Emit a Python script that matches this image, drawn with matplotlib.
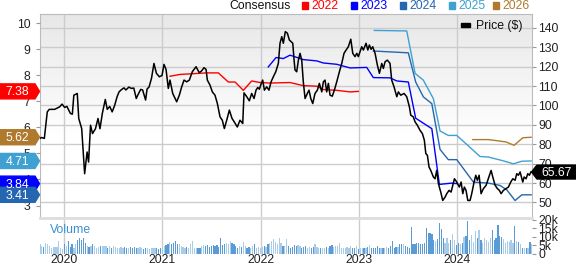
import numpy as np
import pandas as pd
import matplotlib
matplotlib.use("Agg")
import matplotlib.pyplot as plt
from matplotlib.patches import Polygon, Rectangle
from matplotlib.transforms import IdentityTransform

plt.rcParams['font.family'] = ['Liberation Sans', 'DejaVu Sans']

# weekly share price, x in decimal years
price_t = [2019.756, 2019.77, 2019.80, 2019.83, 2019.85, 2019.905, 2019.956, 2019.98, 2020.007, 2020.03,
           2020.065, 2020.085, 2020.10, 2020.135, 2020.15, 2020.18, 2020.21, 2020.235, 2020.25, 2020.27,
           2020.29, 2020.32, 2020.346, 2020.366, 2020.39, 2020.42, 2020.44, 2020.465, 2020.49, 2020.515,
           2020.54, 2020.56, 2020.58, 2020.61, 2020.63, 2020.66, 2020.685, 2020.71, 2020.735, 2020.75,
           2020.78, 2020.80, 2020.83, 2020.845, 2020.865, 2020.89, 2020.915, 2020.94, 2020.97, 2020.997,
           2021.017, 2021.038, 2021.061, 2021.078, 2021.106, 2021.146, 2021.173, 2021.197, 2021.221, 2021.248,
           2021.275, 2021.305, 2021.343, 2021.376, 2021.401, 2021.424, 2021.445, 2021.458, 2021.485, 2021.509,
           2021.536, 2021.56, 2021.587, 2021.61, 2021.631, 2021.655, 2021.682, 2021.709, 2021.732, 2021.763,
           2021.79, 2021.818, 2021.831, 2021.859, 2021.885, 2021.909, 2021.933, 2021.953, 2021.971, 2021.987,
           2022.004, 2022.021, 2022.038, 2022.062, 2022.085, 2022.106, 2022.129, 2022.154, 2022.18, 2022.197,
           2022.215, 2022.231, 2022.251, 2022.272, 2022.292, 2022.327, 2022.34, 2022.35, 2022.367, 2022.384,
           2022.401, 2022.418, 2022.434, 2022.452, 2022.475, 2022.492, 2022.51, 2022.53, 2022.553, 2022.577,
           2022.597, 2022.622, 2022.638, 2022.655, 2022.672, 2022.689, 2022.706, 2022.729, 2022.75, 2022.774,
           2022.801, 2022.825, 2022.848, 2022.869, 2022.892, 2022.917, 2022.937, 2022.96, 2022.978, 2022.994,
           2023.011, 2023.028, 2023.045, 2023.072, 2023.09, 2023.106, 2023.123, 2023.14, 2023.164, 2023.187,
           2023.208, 2023.232, 2023.248, 2023.266, 2023.289, 2023.316, 2023.333, 2023.357, 2023.385, 2023.401,
           2023.425, 2023.459, 2023.486, 2023.513, 2023.527, 2023.553, 2023.571, 2023.594, 2023.621, 2023.645,
           2023.665, 2023.68, 2023.696, 2023.713, 2023.73, 2023.757, 2023.774, 2023.791, 2023.808, 2023.832,
           2023.852, 2023.876, 2023.893, 2023.917, 2023.937, 2023.954, 2023.971, 2023.995, 2024.021, 2024.039,
           2024.056, 2024.072, 2024.089, 2024.107, 2024.13, 2024.147, 2024.171, 2024.188, 2024.204, 2024.222,
           2024.242, 2024.266, 2024.293, 2024.316, 2024.344, 2024.361, 2024.385, 2024.408, 2024.428, 2024.446,
           2024.469, 2024.496, 2024.52, 2024.544, 2024.565, 2024.588, 2024.605, 2024.622, 2024.639, 2024.666,
           2024.68, 2024.70, 2024.717, 2024.734, 2024.748]
price = [83.0, 83.5, 83.0, 96.7, 98.0, 98.0, 99.3, 100.7, 99.0, 99.5,
         95.9, 95.5, 105.3, 106.2, 93.3, 88.1, 64.8, 76.0, 70.8, 89.8,
         85.5, 88.0, 93.3, 88.0, 95.9, 103.1, 98.0, 99.5, 96.7, 100.0,
         104.5, 107.0, 108.0, 109.1, 108.0, 109.5, 108.8, 109.0, 103.6, 105.3,
         108.3, 108.0, 102.8, 108.5, 109.5, 114.0, 121.7, 116.6, 114.8, 115.5,
         121.2, 118.6, 108.8, 113.1, 106.2, 101.9, 105.3, 109.6, 113.1, 112.2,
         113.1, 117.4, 120.0, 116.9, 117.9, 119.5, 118.6, 113.1, 110.5, 107.0,
         105.3, 101.0, 94.1, 92.4, 88.1, 92.4, 97.6, 93.3, 91.5, 88.9,
         92.4, 90.7, 106.5, 104.5, 102.4, 106.2, 103.6, 107.9, 109.3, 108.4,
         111.0, 113.1, 107.9, 109.6, 107.9, 112.2, 114.8, 117.4, 121.7, 132.1,
         135.5, 132.1, 138.1, 137.3, 133.8, 132.1, 123.4, 118.3, 117.4, 123.4,
         126.9, 123.4, 112.2, 103.6, 106.2, 107.9, 103.6, 101.0, 106.2, 107.9,
         111.4, 107.0, 112.2, 113.1, 107.0, 111.4, 105.3, 104.8, 107.9, 112.2,
         117.4, 121.7, 126.9, 128.6, 130.3, 134.2, 126.9, 125.2, 126.9, 125.2,
         127.8, 130.3, 128.6, 132.1, 128.6, 131.2, 129.0, 130.3, 126.9, 120.9,
         116.6, 121.7, 119.1, 122.6, 123.4, 121.7, 113.1, 109.6, 104.5, 107.0,
         105.3, 106.2, 104.5, 99.3, 95.0, 94.1, 91.5, 89.8, 87.2, 85.5,
         82.1, 75.2, 74.3, 68.2, 66.5, 63.1, 62.2, 66.5, 59.7, 55.3,
         51.0, 52.7, 54.5, 56.2, 55.3, 58.8, 62.2, 60.5, 57.9, 60.5,
         54.5, 57.9, 56.2, 51.0, 51.0, 54.5, 60.5, 64.0, 61.4, 64.0,
         54.5, 57.1, 58.8, 62.2, 66.5, 63.1, 58.8, 57.1, 56.2, 54.5,
         56.2, 57.1, 57.9, 60.5, 62.2, 61.4, 64.8, 64.0, 65.7, 60.5,
         63.1, 62.2, 64.8, 64.0, 65.67]

# consensus EPS estimates by fiscal year
eps22_t = [2021.078, 2021.18, 2021.315, 2021.452, 2021.57, 2021.671, 2021.74, 2021.824, 2021.909,
           2021.994, 2022.096, 2022.299, 2022.434, 2022.571, 2022.638, 2022.774, 2022.909, 2022.994]
eps22 = [7.96, 8.03, 8.06, 8.09, 8.09, 7.74, 7.74, 7.42, 7.78,
         7.72, 7.70, 7.72, 7.60, 7.58, 7.45, 7.42, 7.36, 7.38]
eps23_t = [2022.078, 2022.157, 2022.231, 2022.299, 2022.434, 2022.571, 2022.638, 2022.774, 2022.909,
           2023.079, 2023.146, 2023.316, 2023.385, 2023.502, 2023.577, 2023.741, 2023.818, 2023.944, 2023.995]
eps23 = [8.32, 8.68, 8.64, 8.77, 8.60, 8.55, 8.47, 8.42, 8.28,
         8.30, 7.91, 7.90, 7.78, 7.74, 6.35, 5.95, 3.81, 3.86, 3.84]
eps24_t = [2023.146, 2023.502, 2023.577, 2023.655, 2023.741, 2023.825, 2023.909, 2023.995, 2024.164,
           2024.316, 2024.435, 2024.504, 2024.588, 2024.656, 2024.751]
eps24 = [8.93, 8.86, 7.74, 7.17, 6.91, 5.15, 4.76, 4.76, 3.90,
         3.86, 3.77, 3.60, 3.19, 3.41, 3.41]
eps25_t = [2023.156, 2023.486, 2023.571, 2023.655, 2023.757, 2023.825, 2023.909, 2023.995, 2024.232,
           2024.316, 2024.453, 2024.571, 2024.656, 2024.751]
eps25 = [9.72, 9.70, 8.07, 7.81, 7.10, 5.86, 5.69, 5.69, 4.88,
         4.86, 4.73, 4.60, 4.70, 4.71]
eps26_t = [2024.158, 2024.316, 2024.496, 2024.578, 2024.666, 2024.751]
eps26 = [5.53, 5.53, 5.44, 5.31, 5.60, 5.62]

# weekly volume, thousands of shares
volume = [5.9, 4.5, 4.0, 6.5, 5.5, 4.5, 3.5, 4.0, 4.0, 3.8, 7.5, 3.5, 2.6,
          5.5, 4.5, 7.5, 4.0, 5.9, 3.5, 5.5, 8.2, 9.4, 8.2, 9.4, 6.5, 4.5,
          4.0, 4.5, 5.5, 4.5, 3.5, 4.0, 4.2, 4.2, 4.2, 4.5, 3.5, 4.5, 3.5,
          4.5, 4.0, 3.5, 3.5, 4.0, 3.5, 4.0, 3.5, 3.5, 4.0, 3.5, 4.0, 3.5,
          3.5, 4.0, 3.5, 2.6, 3.5, 3.5, 2.6, 3.5, 3.0, 3.5, 3.0, 2.6, 3.5,
          3.5, 4.5, 5.0, 5.5, 7.0, 5.9, 6.5, 7.5, 5.9, 5.5, 4.5, 4.0, 3.5,
          4.0, 3.5, 5.5, 7.5, 3.5, 3.5, 3.5, 3.5, 4.5, 5.0, 4.5, 5.0, 4.0,
          4.5, 5.0, 4.5, 5.0, 4.0, 9.4, 5.0, 5.9, 6.5, 5.5, 7.5, 6.5, 5.5,
          4.5, 3.5, 4.5, 4.0, 7.0, 4.5, 3.5, 4.0, 3.5, 4.5, 5.5, 3.5, 4.0,
          3.5, 4.0, 4.5, 4.0, 5.5, 6.5, 7.5, 8.5, 7.0, 5.9, 9.0, 6.0, 4.5,
          4.5, 8.5, 4.5, 3.5, 4.0, 5.0, 4.5, 5.0, 4.5, 3.5, 4.0, 4.5, 3.5,
          4.0, 3.5, 4.0, 5.5, 4.0, 3.5, 3.0, 3.5, 3.5, 4.0, 3.5, 4.5, 5.0,
          4.0, 4.5, 4.5, 6.0, 3.5, 3.0, 3.5, 4.0, 3.0, 4.5, 3.5, 3.0, 4.5,
          2.5, 3.5, 3.0, 3.5, 3.0, 4.0, 5.0, 3.5, 3.0, 3.5, 4.5, 3.5, 3.0,
          3.5, 3.0, 4.0, 3.5, 4.5, 7.5, 3.5, 4.0, 4.0, 5.5, 5.5, 5.5, 4.5,
          4.0, 3.5, 15.7, 5.5, 5.5, 6.5, 6.0, 5.5, 5.5, 6.0, 15.0, 12.0, 12.0,
          11.5, 8.0, 7.5, 8.5, 18.0, 14.5, 9.0, 6.0, 9.0, 6.0, 8.0, 11.4, 8.0,
          5.0, 6.5, 5.5, 6.0, 10.0, 10.5, 19.3, 8.0, 11.0, 7.0, 13.4, 9.0, 14.0,
          8.0, 6.0, 9.0, 8.0, 7.0, 9.0, 14.0, 8.0, 9.0, 17.0, 10.6, 10.0, 8.5,
          6.5, 7.5, 7.0, 8.0, 6.5, 16.5, 7.5, 7.0, 5.5, 3.5, 3.5, 3.5, 3.5,
          6.7, 5.5]
vol_dates = pd.date_range("2019-10-04", periods=len(volume), freq="W-FRI")
vol_t = vol_dates.year + (vol_dates.dayofyear - 1) / 365.25

years = [2020, 2021, 2022, 2023, 2024]
series = [("2022", eps22_t, eps22, "#ff0000"), ("2023", eps23_t, eps23, "#0000ff"),
          ("2024", eps24_t, eps24, "#2466b0"), ("2025", eps25_t, eps25, "#3ea1d2"),
          ("2026", eps26_t, eps26, "#b07a2e")]

W, H = 576, 265
fig = plt.figure(figsize=(W / 100, H / 100), dpi=100)
L, R, T, BP, BV = 40, 532, 14, 217.5, 253.5
ax = fig.add_axes([L / W, (H - BP) / H, (R - L) / W, (BP - T) / H])
axv = fig.add_axes([L / W, (H - BV) / H, (R - L) / W, (BV - BP) / H])
axe = ax.twinx()

grid_c = "#cccccc"
fs = 8.8

# grey-to-white background: thin bands in axes fraction
nb = 80
for i in range(nb):
    y0 = i / nb
    g = min(1.0, 0.905 + 0.095 * (1 - y0) / 0.62)
    ax.add_patch(Rectangle((0, y0), 1, 1 / nb + 0.002, transform=ax.transAxes,
                           facecolor=(g, g, g), edgecolor="none", zorder=0.1))

# price axis (right) with grid
ax.set_xlim(2019.756, 2024.76)
ax.set_ylim(42.2, 147.2)
ax.set_yticks(range(50, 141, 10))
ax.yaxis.tick_right()
ax.set_xticks(years)
ax.tick_params(axis="x", length=0, labelbottom=False)
ax.tick_params(axis="y", length=3, color="#999999", labelsize=fs, pad=1.5, labelcolor="#222222")
ax.grid(True, color=grid_c, lw=1, zorder=1)
for s in ax.spines.values():
    s.set_color("#bbbbbb")
ax.spines["bottom"].set_visible(False)

# EPS axis (left)
axe.set_ylim(2.54, 10.35)
axe.set_yticks(range(3, 11))
axe.yaxis.tick_left()
axe.tick_params(axis="y", length=3, color="#999999", labelsize=fs, pad=4, labelcolor="#222222")
for s in axe.spines.values():
    s.set_visible(False)
for name, t, v, c in series:
    axe.plot(t, v, color=c, lw=1.0, zorder=2)
axe.plot(price_t, price, color="black", lw=1.1, zorder=3, transform=ax.transData)
axe.set_xlim(2019.756, 2024.76)

# volume panel
pr_at = np.interp(vol_t, price_t, price)
up = np.diff(np.concatenate([[pr_at[0]], pr_at])) >= 0
bar_c = np.where(up, "#a9cce9", "#5b9bd5")
axv.bar(vol_t, volume, width=0.0125, color=bar_c, zorder=2)
axv.set_xlim(2019.756, 2024.76)
axv.set_ylim(0, 21.3)
axv.set_xticks(years)
axv.set_xticklabels([str(y) for y in years])
axv.tick_params(axis="x", length=0, labelsize=fs, pad=0.5, labelcolor="#222222")
axv.yaxis.tick_right()
axv.set_yticks([0, 5, 10, 15, 20])
axv.set_yticklabels(["0", "5k", "10k", "15k", "20k"])
axv.tick_params(axis="y", length=3, color="#999999", labelsize=fs, pad=1.5, labelcolor="#222222")
axv.grid(True, axis="x", color=grid_c, lw=1)
axv.set_axisbelow(True)
for s in axv.spines.values():
    s.set_visible(False)
axv.spines["top"].set_visible(True)
axv.spines["top"].set_color("#dddddd")
axv.spines["top"].set_linewidth(2)
axv.text(0.02, 0.57, "Volume", transform=axv.transAxes, color="#3a8fd0", fontsize=fs)

# header legend
base = 1 - 9.3 / H
fig.text(229 / W, base, "Consensus", fontsize=fs, va="baseline", ha="left", color="#111111")
leg_x = [301.5, 351, 400, 449, 492.5]
for (name, t, v, c), x0 in zip(series, leg_x):
    fig.add_artist(Rectangle((x0 / W, 1 - 8.5 / H), 6 / W, 7 / H, color=c, transform=fig.transFigure))
    fig.text((x0 + 9.5) / W, base, name, fontsize=fs, va="baseline", ha="left", color=c)

# price legend
fig.add_artist(Rectangle((461 / W, 1 - 27 / H), 9 / W, 4 / H, color="black", transform=fig.transFigure))
fig.text(476 / W, 1 - 29 / H, "Price ($)", fontsize=fs, va="baseline", ha="left", color="#111111")

# last-value tags on the left (EPS) and right (price)
tag_order = [series[0], series[4], series[3], series[1], series[2]]
for name, t, v, c in tag_order:
    yp = axe.transData.transform((t[-1], v[-1]))[1]
    hh = 7.5
    poly = Polygon([(0, yp - hh), (35, yp - hh), (39.5, yp), (35, yp + hh), (0, yp + hh)],
                   closed=True, color=c, transform=IdentityTransform())
    fig.add_artist(poly)
    fig.text(17.5 / W, (yp - 4) / H, f"{v[-1]:.2f}", fontsize=fs, color="white", ha="center", va="baseline")

yp = ax.transData.transform((price_t[-1], price[-1]))[1]
hh = 7
poly = Polygon([(531.5, yp), (537, yp - hh), (576, yp - hh), (576, yp + hh), (537, yp + hh)],
               closed=True, color="black", transform=IdentityTransform())
fig.add_artist(poly)
fig.text(556.5 / W, (yp - 4) / H, f"{price[-1]:.2f}", fontsize=fs, color="white", ha="center", va="baseline")

fig.savefig("out.png", dpi=100)
